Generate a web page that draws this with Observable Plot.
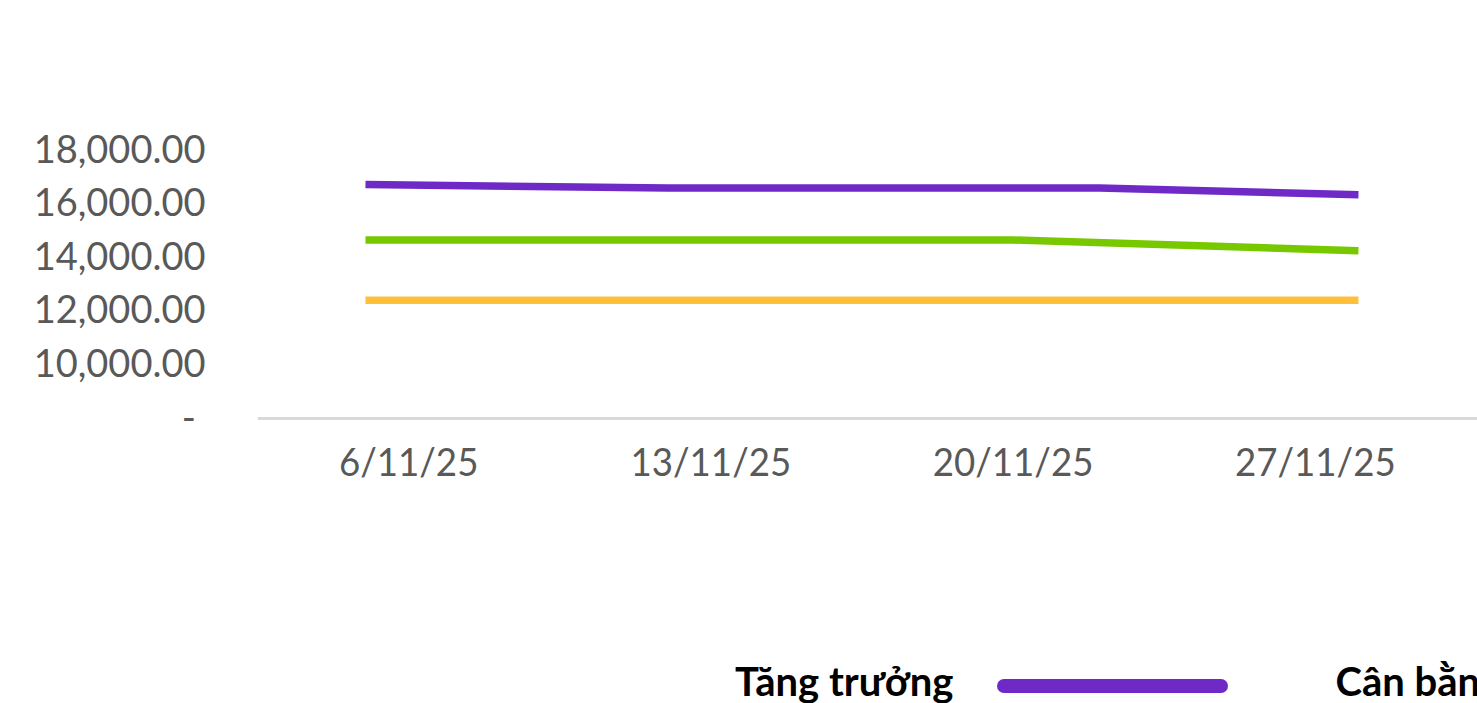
<!DOCTYPE html>
<html>
<head>
<meta charset="utf-8">
<script src="https://cdn.jsdelivr.net/npm/d3@7"></script>
<script src="https://cdn.jsdelivr.net/npm/@observablehq/plot@0.6"></script>
<style>
  html, body { margin: 0; padding: 0; background: #fff; }
  #wrap { position: relative; width: 1477px; height: 703px; overflow: hidden; }
  #legend { position: absolute; left: 735px; top: 651px; height: 60px; display: flex; align-items: center; white-space: nowrap; font-family: Lato, sans-serif; font-weight: bold; font-size: 40px; color: #000; }
  #legend .sw { display: inline-block; position: relative; top: 5px; width: 231px; height: 14px; border-radius: 7px; margin-left: 44px; margin-right: 107px; }
</style>
</head>
<body>
<div id="wrap">
  <div id="chart"></div>
  <div id="legend"></div>
</div>
<script>
// Series names and colours
const seriesNames = ["Tăng trưởng", "Cân bằng", "An toàn"];
const seriesColors = ["#6f29c7", "#78c800", "#ffbf3b"];

// Tăng trưởng (purple)
const tangTruongDates = ["2025-11-05", "2025-11-12", "2025-11-22", "2025-11-28"];
const tangTruongValues = [16730, 16600, 16600, 16350];

// Cân bằng (green)
const canBangDates = ["2025-11-05", "2025-11-20", "2025-11-28"];
const canBangValues = [14660, 14660, 14260];

// An toàn (yellow)
const anToanDates = ["2025-11-05", "2025-11-28"];
const anToanValues = [12415, 12415];

// Axis ticks
const xTickDates = ["2025-11-06", "2025-11-13", "2025-11-20", "2025-11-27"];
const yTickValues = [8000, 10000, 12000, 14000, 16000, 18000];

const parse = d3.utcParse("%Y-%m-%d");
function build(name, dates, values) {
  return dates.map((d, i) => ({series: name, date: parse(d), value: values[i]}));
}
const data = [
  ...build(seriesNames[0], tangTruongDates, tangTruongValues),
  ...build(seriesNames[1], canBangDates, canBangValues),
  ...build(seriesNames[2], anToanDates, anToanValues)
];

const fmtY = d3.format(",.2f");
const fmtX = d3.utcFormat("%-d/%m/%y");

const plot = Plot.plot({
  width: 1477,
  height: 640,
  marginLeft: 258,
  marginRight: 0,
  marginTop: 150,
  marginBottom: 222,
  style: {fontFamily: "Lato, sans-serif", background: "#fff", color: "#595959"},
  x: {
    type: "utc",
    domain: [new Date(Date.UTC(2025, 10, 2, 12, 32)), new Date(Date.UTC(2025, 10, 30, 18, 10))],
    label: null
  },
  y: {
    domain: [8000, 18000],
    label: null
  },
  color: {domain: seriesNames, range: seriesColors},
  marks: [
    Plot.axisY(yTickValues, {
      tickSize: 0,
      tickPadding: 53,
      fontSize: 38,
      fill: "#595959",
      tickFormat: d => d === yTickValues[0] ? "-\u00a0" : fmtY(d)
    }),
    Plot.axisX(xTickDates.map(parse), {
      tickSize: 0,
      tickPadding: 30,
      fontSize: 39,
      fill: "#595959",
      tickFormat: fmtX
    }),
    Plot.ruleY([yTickValues[0]], {stroke: "#d9d9d9", strokeWidth: 3}),
    Plot.line(data, {
      x: "date",
      y: "value",
      z: "series",
      stroke: "series",
      strokeWidth: 7.5,
      strokeLinecap: "butt",
      strokeLinejoin: "round"
    })
  ]
});
document.getElementById("chart").appendChild(plot);

// condense the date labels slightly, as in the reference
plot.querySelectorAll('g[aria-label="x-axis tick label"] text').forEach(t => {
  const w = t.getComputedTextLength();
  t.setAttribute("textLength", (w * 0.94).toFixed(1));
  t.setAttribute("lengthAdjust", "spacingAndGlyphs");
});

const legend = document.getElementById("legend");
seriesNames.forEach((name, i) => {
  const t = document.createElement("span");
  t.textContent = name;
  legend.appendChild(t);
  const s = document.createElement("span");
  s.className = "sw";
  s.style.background = seriesColors[i];
  legend.appendChild(s);
});
</script>
</body>
</html>
